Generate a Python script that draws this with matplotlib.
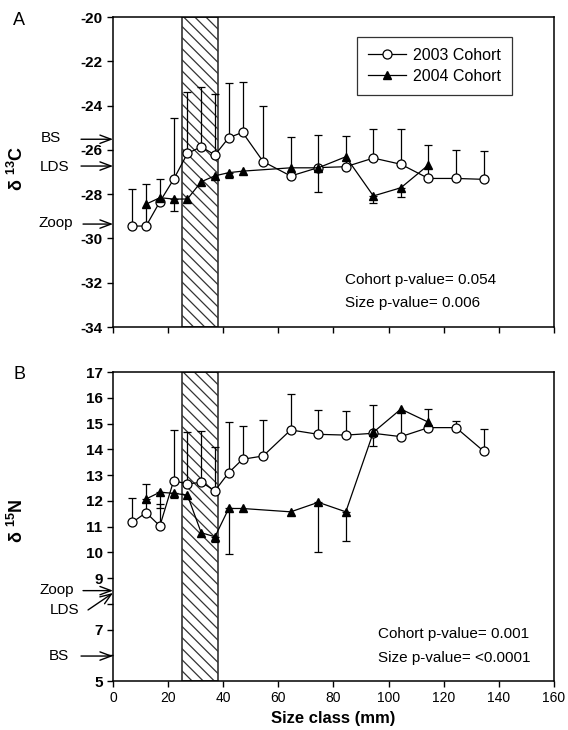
import numpy as np
import matplotlib
matplotlib.use('Agg')
import matplotlib.pyplot as plt

plt.rcParams['font.family'] = ['Liberation Sans', 'DejaVu Sans']
plt.rcParams['mathtext.fontset'] = 'custom'
plt.rcParams['mathtext.rm'] = 'Liberation Sans'
plt.rcParams['mathtext.bf'] = 'Liberation Sans:bold'
plt.rcParams['hatch.linewidth'] = 0.9

# size classes (mm)
x03 = np.array([7, 12, 17, 22, 27, 32, 37, 42, 47, 54.5, 64.5, 74.5, 84.5, 94.5, 104.5, 114.5, 124.5, 134.5])
x04 = np.array([12, 17, 22, 27, 32, 37, 42, 47, 64.5, 74.5, 84.5, 94.5, 104.5, 114.5])

# d13C
c03 = np.array([-29.44, -29.44, -28.34, -27.33, -26.16, -25.86, -26.23, -25.45, -25.21, -26.53,
                -27.18, -26.80, -26.76, -26.37, -26.65, -27.29, -27.29, -27.33])
c03_err = np.array([1.67, 1.88, 1.01, 2.78, 2.79, 2.68, 2.74, 2.48, 2.29, 2.53,
                    1.78, 1.47, 1.39, 1.30, 1.58, 1.51, 1.29, 1.28])
c04 = np.array([-28.45, -28.16, -28.22, -28.22, -27.44, -27.17, -27.03, -26.96, -26.81, -26.81,
                -26.31, -28.08, -27.71, -26.68])
c04_err = np.array([0, 0, 0.54, 0, 0, 0, 0.23, 0, 0, 1.08, 0, 0.31, 0.44, 0])

# d15N
n03 = np.array([11.16, 11.54, 11.02, 12.78, 12.65, 12.72, 12.39, 13.09, 13.61, 13.74,
                14.75, 14.58, 14.55, 14.62, 14.49, 14.84, 14.84, 13.93])
n03_err = np.array([0.96, 1.11, 0.85, 1.97, 2.03, 1.99, 1.71, 1.96, 1.31, 1.40,
                    1.38, 0.94, 0.95, 1.10, 1.00, 0.71, 0.27, 0.84])
n04 = np.array([12.07, 12.33, 12.29, 12.22, 10.76, 10.60, 11.70, 11.70, 11.57, 11.94,
                11.57, 14.66, 15.56, 15.05])
n04_err = np.array([0.13, 0.60, 0.20, 0, 0, 0.19, 1.77, 0, 0, 1.92, 1.12, 0.53, 0, 0])

# food source reference values (arrows on the y axis)
src_c = {'BS': -25.52, 'LDS': -26.73, 'Zoop': -29.35}
src_n = {'Zoop': 8.51, 'LDS': 8.42, 'BS': 5.97}

juv_band = (25, 38)


def panel(ax, x1, y1, e1, x2, y2, e2):
    ax.axvspan(juv_band[0], juv_band[1], facecolor='white', edgecolor='#333333',
               hatch='\\\\\\', lw=1.2, zorder=1)
    m = e1 > 0
    ax.errorbar(x1[m], y1[m], yerr=[np.zeros(m.sum()), e1[m]], fmt='none',
                ecolor='black', elinewidth=0.9, capsize=3, capthick=0.9, zorder=2)
    m = e2 > 0
    ax.errorbar(x2[m], y2[m], yerr=[e2[m], np.zeros(m.sum())], fmt='none',
                ecolor='black', elinewidth=0.9, capsize=3, capthick=0.9, zorder=2)
    ax.plot(x1, y1, '-o', color='black', lw=0.9, ms=6.5, mfc='white', mec='black',
            mew=0.9, label='2003 Cohort', zorder=3)
    ax.plot(x2, y2, '-^', color='black', lw=0.9, ms=6, mfc='black', mec='black',
            label='2004 Cohort', zorder=3)
    ax.set_xlim(0, 160)
    ax.set_xticks(np.arange(0, 161, 20))
    ax.tick_params(direction='out', length=4, width=1, labelsize=10)
    ax.tick_params(axis='y', labelsize=11)
    for s in ax.spines.values():
        s.set_linewidth(1.1)


def arrow(ax, label, val, tail=(-32, 0), text_off=(-56, 0)):
    ax.annotate('', xy=(0, val), xycoords='data',
                xytext=tail, textcoords='offset pixels',
                arrowprops=dict(arrowstyle='->,head_length=0.8,head_width=0.3',
                                color='black', lw=1.0, shrinkA=0, shrinkB=0),
                annotation_clip=False)
    ax.annotate(label, xy=(0, val), xycoords='data', xytext=text_off,
                textcoords='offset pixels', ha='center', va='center',
                fontsize=11, annotation_clip=False)


fig = plt.figure(figsize=(5.68, 7.3), dpi=100)
ax1 = fig.add_axes([0.199, 0.552, 0.776, 0.4247])
ax2 = fig.add_axes([0.199, 0.0671, 0.776, 0.4233])

# panel A
panel(ax1, x03, c03, c03_err, x04, c04, c04_err)
ax1.set_ylim(-34, -20)
ax1.set_yticks(np.arange(-34, -19, 2))
ax1.set_yticklabels([str(v) for v in range(-34, -19, 2)], fontweight='bold')
ax1.set_xticklabels([])
ax1.set_ylabel('δ $^{\\mathbf{13}}$C', fontweight='bold', fontsize=13)
ax1.yaxis.set_label_coords(-0.195, 0.513)
ax1.legend(loc='upper left', bbox_to_anchor=(0.535, 0.962), frameon=True, fancybox=False,
           edgecolor='black', fontsize=11.5, handlelength=2.4, borderpad=0.7,
           labelspacing=0.35, handletextpad=0.4).get_frame().set_linewidth(0.9)
ax1.text(0.526, 0.152, 'Cohort p-value= 0.054', transform=ax1.transAxes, fontsize=11, va='center')
ax1.text(0.526, 0.077, 'Size p-value= 0.006', transform=ax1.transAxes, fontsize=11, va='center')
arrow(ax1, 'BS', src_c['BS'], text_off=(-62, 1))
arrow(ax1, 'LDS', src_c['LDS'], text_off=(-58, -1))
arrow(ax1, 'Zoop', src_c['Zoop'], tail=(-30, 0), text_off=(-57, 1))

# panel B
panel(ax2, x03, n03, n03_err, x04, n04, n04_err)
ax2.set_ylim(5, 17)
ax2.set_yticks(np.arange(5, 18, 1))
ylabs = [str(v) for v in range(5, 18)]
ylabs[1] = ''
ylabs[3] = ''
ax2.set_yticklabels(ylabs, fontweight='bold')
ax2.set_ylabel('δ $^{\\mathbf{15}}$N', fontweight='bold', fontsize=13)
ax2.yaxis.set_label_coords(-0.195, 0.518)
ax2.set_xlabel('Size class (mm)', fontweight='bold', fontsize=12)
ax2.text(0.601, 0.152, 'Cohort p-value= 0.001', transform=ax2.transAxes, fontsize=11, va='center')
ax2.text(0.601, 0.074, 'Size p-value= <0.0001', transform=ax2.transAxes, fontsize=11, va='center')
arrow(ax2, 'Zoop', src_n['Zoop'], tail=(-30, 0), text_off=(-56, 1))
arrow(ax2, 'LDS', src_n['LDS'], tail=(-25, -17), text_off=(-48, -17))
arrow(ax2, 'BS', src_n['BS'], text_off=(-54, 0))

fig.text(0.034, 0.972, 'A', fontsize=13, ha='center', va='center')
fig.text(0.034, 0.487, 'B', fontsize=13, ha='center', va='center')

fig.savefig('out.png', dpi=100)
